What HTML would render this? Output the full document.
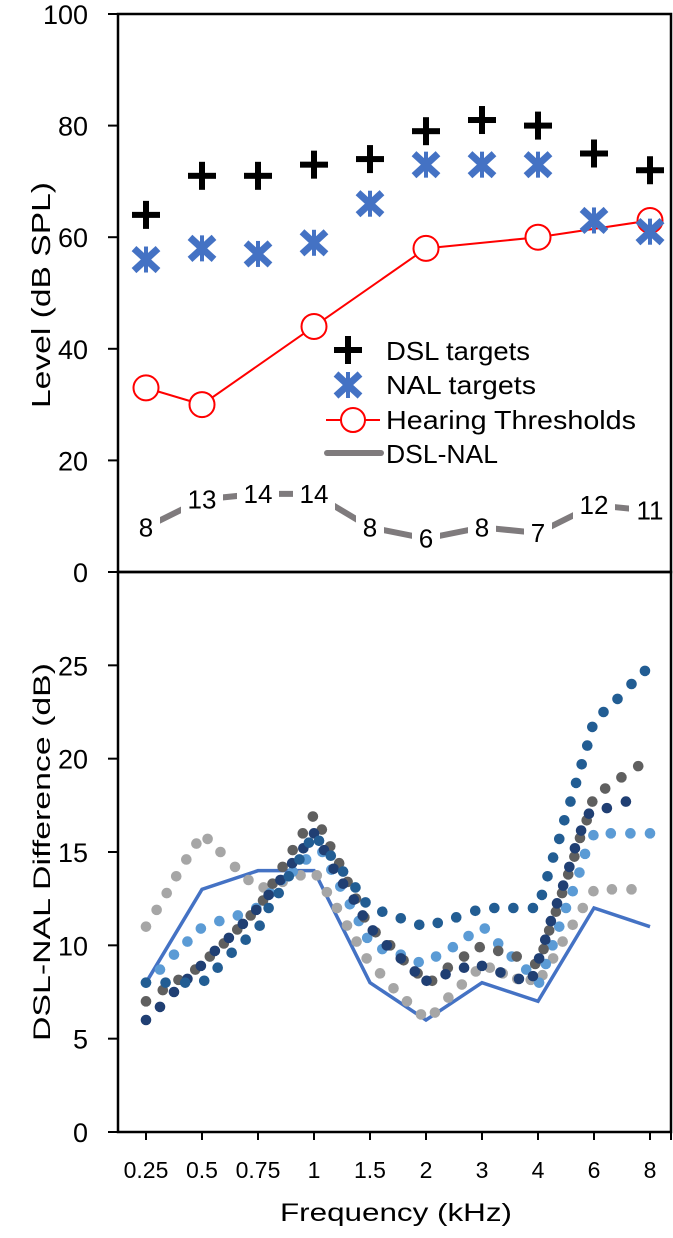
<!DOCTYPE html>
<html>
<head>
<meta charset="utf-8">
<style>
html,body{margin:0;padding:0;background:#fff;}
svg{display:block;}
text{font-family:"Liberation Sans",sans-serif;fill:#000;}
</style>
</head>
<body>
<svg id="chart" width="673" height="1238" viewBox="0 0 673 1238" xmlns="http://www.w3.org/2000/svg">
  <g id="topPanel"></g>
  <g id="bottomPanel"></g>
  <g id="frame"></g>
</svg>
<script>
// ---------- data ----------
const categories = ["0.25","0.5","0.75","1","1.5","2","3","4","6","8"];
const dslTargets = [64,71,71,73,74,79,81,80,75,72];
const nalTargets = [56,58,57,59,66,73,73,73,63,61];
const thresholdIdx = [0,1,3,5,7,9];
const thresholdVals = [33,30,44,58,60,63];
const dslNalDiff = [8,13,14,14,8,6,8,7,12,11];
const topTicks = [0,20,40,60,80,100];
const bottomTicks = [0,5,10,15,20,25];

// dotted series: x as fractional category index, y in dB
const lightGrayX = [0,0.19,0.37,0.54,0.72,0.9,1.1,1.33,1.59,1.83,2.1,2.44,2.76,3.05,3.23,3.41,3.59,3.76,3.94,4.18,4.42,4.66,4.91,5.16,5.4,5.64,5.89,6.14,6.37,6.63,6.87,7.08,7.27,7.44,7.62,7.8,7.99,8.32,8.67];
const lightGrayY = [11.0,11.9,12.8,13.7,14.6,15.45,15.7,15.0,14.2,13.5,13.1,13.4,13.75,13.75,12.85,12.0,11.06,10.2,9.3,8.5,7.7,7.0,6.3,6.4,7.2,7.9,8.6,8.8,8.5,8.2,8.15,8.4,9.3,10.2,11.1,12.0,12.9,13.0,13.0];
const darkGrayX = [0,0.3,0.58,0.88,1.14,1.39,1.63,1.87,2.09,2.26,2.44,2.62,2.8,2.98,3.14,3.29,3.45,3.6,3.75,3.9,4.1,4.36,4.6,4.85,5.11,5.39,5.68,5.96,6.29,6.62,6.95,7.1,7.2,7.32,7.43,7.54,7.65,7.75,7.87,7.97,8.2,8.49,8.79];
const darkGrayY = [7.0,7.6,8.15,8.7,9.4,10.1,10.85,11.6,12.4,13.3,14.2,15.1,16.0,16.9,16.2,15.3,14.4,13.4,12.5,11.5,10.7,10.0,9.2,8.5,8.1,8.8,9.4,9.9,9.7,9.4,9.0,9.8,10.8,11.8,12.8,13.8,14.75,15.75,16.7,17.7,18.4,19.0,19.6];
const lightBlueX = [0,0.25,0.5,0.74,0.98,1.31,1.64,1.97,2.22,2.42,2.62,2.86,3.15,3.31,3.47,3.64,3.8,3.95,4.22,4.55,4.87,5.18,5.48,5.76,6.05,6.29,6.53,6.79,7.02,7.14,7.26,7.38,7.5,7.62,7.74,7.84,7.99,8.3,8.65,9.0];
const lightBlueY = [8.0,8.7,9.5,10.2,10.9,11.3,11.6,12.0,12.8,13.5,13.95,14.6,15.0,14.05,13.15,12.2,11.3,10.4,9.8,9.5,9.1,9.4,9.9,10.5,10.9,10.1,9.4,8.7,8.0,9.0,10.0,11.0,12.0,12.9,13.9,14.9,15.9,16.0,16.0,16.0];
const midBlueX = [0,0.35,0.7,1.04,1.28,1.53,1.78,2.03,2.19,2.37,2.55,2.74,2.91,3.09,3.3,3.52,3.74,3.92,4.22,4.55,4.88,5.21,5.54,5.88,6.22,6.56,6.91,7.07,7.17,7.27,7.38,7.47,7.58,7.68,7.78,7.88,7.97,8.17,8.42,8.67,8.91];
const midBlueY = [8.0,8.0,8.0,8.1,8.8,9.6,10.3,11.05,12.0,12.8,13.7,14.6,15.5,15.6,14.8,13.95,13.1,12.3,11.8,11.45,11.1,11.2,11.5,11.85,12.0,12.0,12.0,12.7,13.7,14.7,15.7,16.7,17.7,18.7,19.7,20.7,21.7,22.5,23.2,24.0,24.7];
const navyX = [0,0.25,0.5,0.74,0.98,1.23,1.48,1.73,1.97,2.19,2.4,2.61,2.81,3.0,3.18,3.35,3.52,3.71,3.87,4.05,4.3,4.55,4.8,5.01,5.35,5.68,6.0,6.33,6.66,6.91,7.02,7.13,7.23,7.34,7.45,7.56,7.66,7.77,7.91,8.23,8.57];
const navyY = [6.0,6.7,7.5,8.2,8.9,9.7,10.4,11.15,11.9,12.7,13.5,14.4,15.2,16.0,15.1,14.1,13.3,12.45,11.6,10.8,10.0,9.3,8.6,8.1,8.45,8.8,8.9,8.55,8.2,8.35,9.3,10.3,11.3,12.25,13.2,14.2,15.2,16.15,17.05,17.35,17.7];

// ---------- geometry ----------
const NS = "http://www.w3.org/2000/svg";
const L = 118, R = 671, X0 = 146, DX = 56;
const T_TOP = 14, T_BOT = 572, B_BOT = 1132;
const xS = i => X0 + DX * i;
const yT = v => T_BOT - (T_BOT - T_TOP) * v / 100;
const yB = v => B_BOT - (B_BOT - T_BOT) * v / 30;

function mk(tag, attrs, parent) {
  const e = document.createElementNS(NS, tag);
  for (const k in attrs) e.setAttribute(k, attrs[k]);
  parent.appendChild(e);
  return e;
}
const frameG = document.getElementById('frame');
const topG = document.getElementById('topPanel');
const botG = document.getElementById('bottomPanel');

let e = mk('rect', {x:L, y:T_TOP, width:R-L, height:T_BOT-T_TOP, fill:'none', stroke:'#000', 'stroke-width':2.5}, frameG);


e = mk('rect', {x:L, y:T_BOT, width:R-L, height:B_BOT-T_BOT, fill:'none', stroke:'#000', 'stroke-width':2.5}, frameG);



topTicks.forEach(v => {
  const t = mk('line', {x1:L-10, x2:L, y1:yT(v), y2:yT(v), stroke:'#000', 'stroke-width':2}, topG);
  
  
  const lb = mk('text', {x:88, y:yT(v)+10, 'text-anchor':'end', 'font-size':27}, topG);
  lb.textContent = v;
  
  
});
bottomTicks.forEach(v => {
  const t = mk('line', {x1:L-10, x2:L, y1:yB(v), y2:yB(v), stroke:'#000', 'stroke-width':2}, botG);
  
  
  const lb = mk('text', {x:88, y:yB(v)+10, 'text-anchor':'end', 'font-size':27}, botG);
  lb.textContent = v;
  
  
});
categories.forEach((c, i) => {
  const t = mk('line', {x1:xS(i), x2:xS(i), y1:B_BOT, y2:B_BOT+8, stroke:'#000', 'stroke-width':2}, botG);
  
  
  const lb = mk('text', {x:xS(i), y:B_BOT+46, 'text-anchor':'middle', 'font-size':23}, botG);
  lb.textContent = c;
  
  
});
e = mk('line', {x1:R, x2:R, y1:B_BOT, y2:B_BOT+8, stroke:'#000', 'stroke-width':2}, botG);



e = mk('text', {transform:'translate(50,295) rotate(-90)', 'text-anchor':'middle', 'font-size':26, textLength:226, lengthAdjust:'spacingAndGlyphs'}, topG);
e.textContent = 'Level (dB SPL)';


e = mk('text', {transform:'translate(50,852) rotate(-90)', 'text-anchor':'middle', 'font-size':24, textLength:378, lengthAdjust:'spacingAndGlyphs'}, botG);
e.textContent = 'DSL-NAL Difference (dB)';


e = mk('text', {x:396, y:1221, 'text-anchor':'middle', 'font-size':25, textLength:232, lengthAdjust:'spacingAndGlyphs'}, botG);
e.textContent = 'Frequency (kHz)';



function plus(parent, cx, cy) {
  const g = mk('g', {}, parent);
  mk('rect', {x:cx-14, y:cy-3, width:28, height:6, fill:'#000'}, g);
  mk('rect', {x:cx-3, y:cy-14, width:6, height:28, fill:'#000'}, g);
  return g;
}
function star(parent, cx, cy) {
  const g = mk('g', {stroke:'#4472c4', 'stroke-linecap':'butt'}, parent);
  mk('line', {x1:cx-12, y1:cy-11, x2:cx+12, y2:cy+11, 'stroke-width':7}, g);
  mk('line', {x1:cx-12, y1:cy+11, x2:cx+12, y2:cy-11, 'stroke-width':7}, g);
  mk('line', {x1:cx, y1:cy-13, x2:cx, y2:cy+13, 'stroke-width':4}, g);
  return g;
}

const diffG = mk('g', {}, topG);


e = mk('polyline', {points: dslNalDiff.map((v,i)=>xS(i)+','+yT(v)).join(' '), fill:'none', stroke:'#7f7b7d', 'stroke-width':6}, diffG);


dslNalDiff.forEach((v, i) => {
  const w = String(v).length > 1 ? 42 : 28;
  const r = mk('rect', {x:xS(i)-w/2, y:yT(v)-19, width:w, height:38, fill:'#fff'}, diffG);
  
  
  const t = mk('text', {x:xS(i), y:yT(v)+9, 'text-anchor':'middle', 'font-size':26}, diffG);
  t.textContent = v;
  
  
});

e = mk('polyline', {points: thresholdIdx.map((ix,k)=>xS(ix)+','+yT(thresholdVals[k])).join(' '), fill:'none', stroke:'#ff0000', 'stroke-width':2}, topG);


nalTargets.forEach((v, i) => {
  const g = star(topG, xS(i), yT(v));
  
  
});
thresholdIdx.forEach((ix, k) => {
  const c = mk('circle', {cx:xS(ix), cy:yT(thresholdVals[k]), r:12.5, fill:'#fff', stroke:'#ff0000', 'stroke-width':2}, topG);
  
  
});
{
  const g = star(topG, xS(9), yT(nalTargets[9]));
  
  
}
dslTargets.forEach((v, i) => {
  const g = plus(topG, xS(i), yT(v));
  
  
});

const lg = mk('g', {}, topG);


e = plus(lg, 348, 350);


e = star(lg, 348, 385);


e = mk('line', {x1:326, x2:380, y1:420, y2:420, stroke:'#ff0000', 'stroke-width':2}, lg);


e = mk('circle', {cx:353, cy:420, r:12, fill:'#fff', stroke:'#ff0000', 'stroke-width':2}, lg);


e = mk('line', {x1:327, x2:381, y1:453, y2:453, stroke:'#7f7b7d', 'stroke-width':6, 'stroke-linecap':'round'}, lg);


[["DSL targets",360,144],["NAL targets",394,150],["Hearing Thresholds",429,250],["DSL-NAL",463,112]].forEach(([s,y,w]) => {
  const t = mk('text', {x:386, y:y, 'font-size':26, textLength:w, lengthAdjust:'spacingAndGlyphs'}, lg);
  t.textContent = s;
  
  
});

e = mk('polyline', {points: dslNalDiff.map((v,i)=>xS(i)+','+yB(v)).join(' '), fill:'none', stroke:'#4472c4', 'stroke-width':3.5}, botG);



function dots(xs, ys, color, name) {
  const g = mk('g', {fill:color}, botG);
  
  
  xs.forEach((x, k) => {
    const c = mk('circle', {cx:xS(x), cy:yB(ys[k]), r:5.3}, g);
    
    
  });
}
dots(lightGrayX, lightGrayY, '#a6a6a6', 'light-gray-series');
dots(lightBlueX, lightBlueY, '#5b9bd5', 'light-blue-series');
dots(darkGrayX, darkGrayY, '#5f5f5f', 'dark-gray-series');
dots(navyX, navyY, '#203f73', 'navy-series');
dots(midBlueX, midBlueY, '#225d93', 'mid-blue-series');
</script>
</body>
</html>
